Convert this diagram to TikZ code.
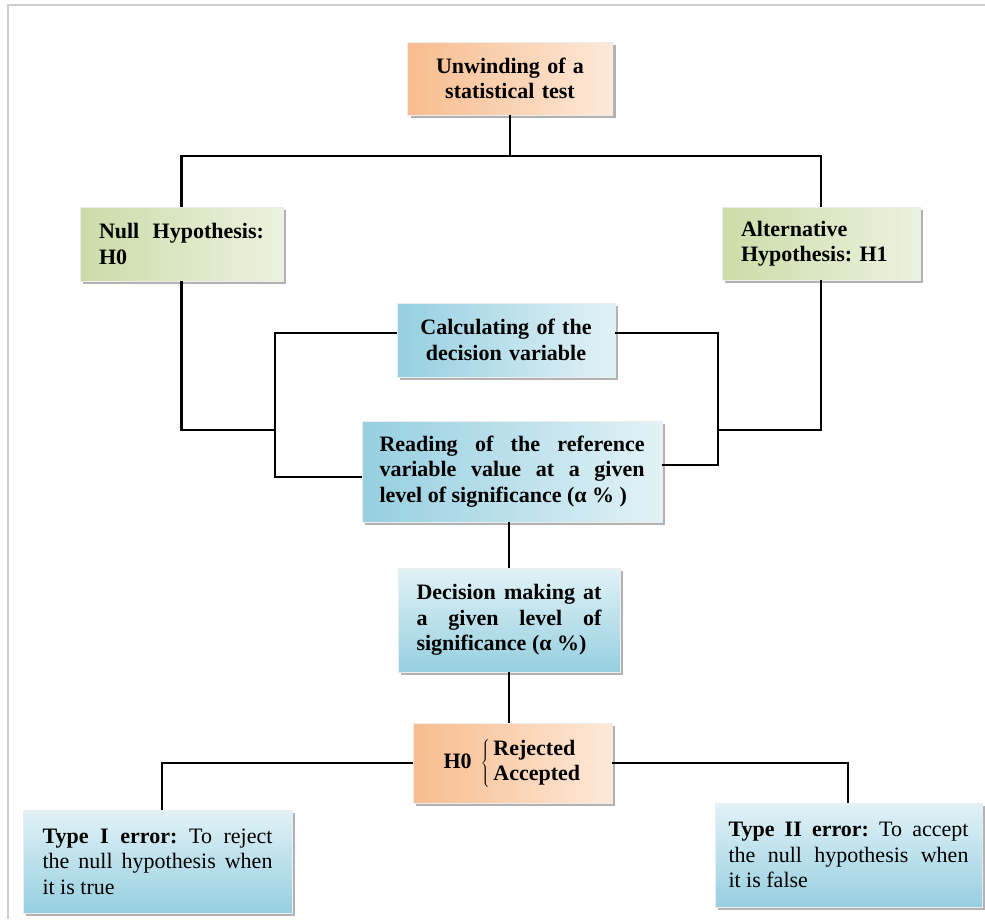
\documentclass[tikz,border=0pt]{standalone}
\usepackage{fontspec}
\setmainfont{Liberation Serif}
\usetikzlibrary{shadows}
\frenchspacing
\definecolor{orA}{RGB}{247,188,142}
\definecolor{orB}{RGB}{253,233,216}
\definecolor{grA}{RGB}{203,220,168}
\definecolor{grB}{RGB}{236,242,224}
\definecolor{blA}{RGB}{150,207,224}
\definecolor{blB}{RGB}{226,242,247}
\definecolor{frame}{RGB}{205,205,205}
\tikzset{
  box/.style={draw=white!85!gray, line width=0.6pt, inner ysep=4pt,
    font=\fontsize{22}{25.5}\selectfont\frenchspacing,
    drop shadow={shadow xshift=3pt, shadow yshift=-3pt, fill=black!55, opacity=0.55}},
  orbox/.style={box, left color=orA, right color=orB},
  grbox/.style={box, left color=grA, right color=grB},
  blbox/.style={box, left color=blA, right color=blB},
  blvbox/.style={box, top color=blB, bottom color=blA},
  conn/.style={draw=black, line width=2.3pt}
}
\begin{document}
\begin{tikzpicture}[x=1pt,y=-1pt]
\useasboundingbox (0,0) rectangle (985,919);
\fill[white] (0,0) rectangle (985,919);
\draw[frame, line width=2pt] (8,919) -- (8,5) -- (985,5);

% nodes
\node[orbox, minimum width=205pt, minimum height=73pt, text width=180pt, align=center]
  (top) at (510,78.5) {\bfseries Unwinding of a\\statistical test};
\node[grbox, minimum width=203pt, minimum height=74pt, text width=165pt, inner xsep=19pt, align=justify]
  (null) at (181.5,244) {\bfseries Null Hypothesis:\linebreak H0};
\node[grbox, minimum width=198pt, minimum height=73pt, text width=160pt, inner xsep=19pt, align=left]
  (alt) at (821,243.5) {\bfseries Alternative\\Hypothesis: H1};
\node[blbox, minimum width=218pt, minimum height=74pt, text width=190pt, align=center]
  (calc) at (506,340) {\bfseries Calculating of the\\decision variable};
\node[blbox, minimum width=300pt, minimum height=101pt, text width=265pt, inner xsep=17.5pt, align=justify]
  (read) at (512,471.5) {\bfseries Reading of the reference\linebreak variable value at a given\linebreak level of significance (α\ \%\ )};
\node[blvbox, minimum width=222pt, minimum height=104pt, text width=185pt, inner xsep=18.5pt, align=justify]
  (dec) at (509,620) {\bfseries Decision making at\linebreak a given level of\linebreak significance (α\ \%)};
\node[orbox, minimum width=199pt, minimum height=80pt, align=center]
  (h0) at (512.5,763) {\bfseries H0\, $\left\{\begin{tabular}{@{\,}l@{}}Rejected\\Accepted\end{tabular}\right.$};
\node[blvbox, minimum width=269pt, minimum height=103pt, text width=230pt, inner xsep=19.5pt, align=justify]
  (t1) at (157.5,861.5) {{\bfseries Type I error:} To reject\linebreak the null hypothesis when\linebreak it is true};
\node[blvbox, minimum width=267pt, minimum height=104pt, text width=240pt, inner xsep=13.5pt, align=justify]
  (t2) at (848.5,855) {{\bfseries Type II error:} To accept\linebreak the null hypothesis when\linebreak it is false};

% junction coordinates
\coordinate (jTop) at (510,156);
\coordinate (jL) at (275,430);
\coordinate (jR) at (718,430);
\coordinate (jLa) at (275,333);
\coordinate (jLb) at (275,477);
\coordinate (jRa) at (718,333);
\coordinate (jRb) at (718,465);
\coordinate (jH0L) at (162,763);
\coordinate (jH0R) at (848,763);

% connectors
\draw[conn] (top.south) -- (jTop);
\draw[conn] (null.north) |- (jTop) -| (alt.north);
\draw[conn] (null.south) |- (jL);
\draw[conn] (alt.south) |- (jR);
\draw[conn] (calc.west |- jLa) -- (jLa) -- (jLb) -- (read.west |- jLb);
\draw[conn] (calc.east |- jRa) -- (jRa) -- (jRb) -- (read.east |- jRb);
\draw[conn] (read.south -| dec.north) -- (dec.north);
\draw[conn] (dec.south) -- (h0.north -| dec.south);
\draw[conn] (h0.west) -- (jH0L) -- (t1.north -| jH0L);
\draw[conn] (h0.east) -- (jH0R) -- (t2.north -| jH0R);
\end{tikzpicture}
\end{document}
